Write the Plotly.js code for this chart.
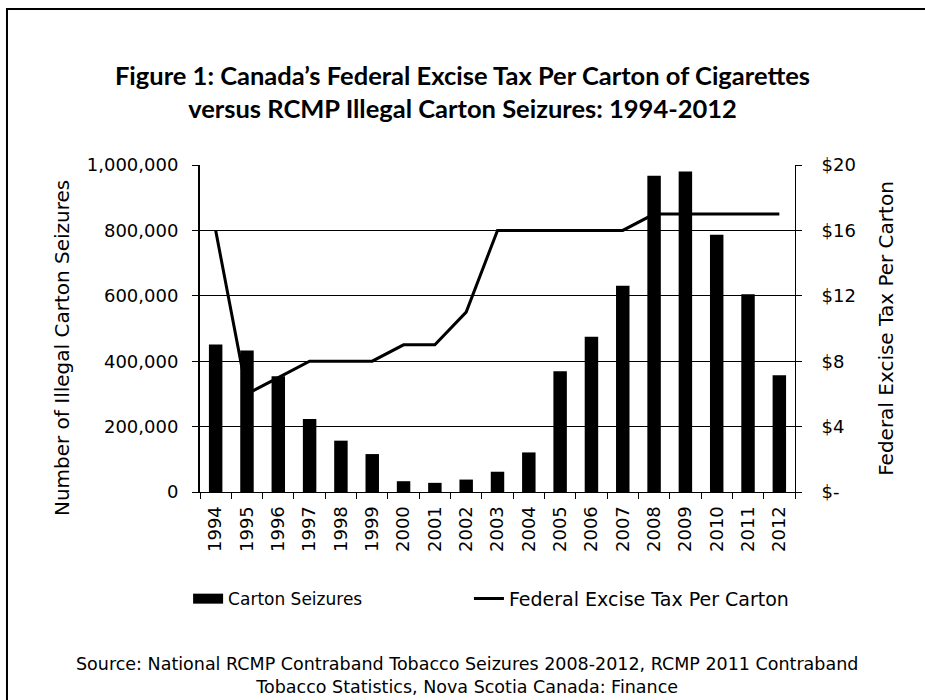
<!DOCTYPE html>
<html><head><meta charset="utf-8">
<script src="https://cdn.plot.ly/plotly-3.0.1.min.js"></script>
<style>html,body{margin:0;padding:0;background:#fff}#chart{width:925px;height:700px}</style>
</head><body><div id="chart"></div>
<script>
const years = ['1994','1995','1996','1997','1998','1999','2000','2001','2002','2003','2004','2005','2006','2007','2008','2009','2010','2011','2012'];
const seizures = [451000,433000,354000,223000,157000,116000,33000,28000,38000,62000,121000,369000,475000,631000,967000,980000,787000,605000,357000];
const exciseTax = [16,6,7,8,8,8,9,9,11,16,16,16,16,16,17,17,17,17,17];
const seizureTickVals = [0,200000,400000,600000,800000,1000000];
const taxTickVals = [0,4,8,12,16,20];
const taxTickText = ['$-','$4','$8','$12','$16','$20'];

const F = 'DejaVu Sans';
const data = [
  {type:'bar', name:'Carton Seizures', x:years, y:seizures, marker:{color:'#000'}, yaxis:'y', showlegend:false},
  {type:'scatter', mode:'lines', name:'Carton Seizures', x:[null], y:[null], line:{color:'#000', width:13},
   yaxis:'y', showlegend:true, legend:'legend', hoverinfo:'skip'},
  {type:'scatter', mode:'lines', name:'Federal Excise Tax Per Carton', x:years, y:exciseTax,
   line:{color:'#000', width:3}, yaxis:'y2', legend:'legend2'}
];
const layout = {
  width:925, height:700,
  margin:{l:200, r:130, t:165, b:208},
  paper_bgcolor:'#fff', plot_bgcolor:'#fff',
  showlegend:true,
  bargap:0.57,
  font:{family:F, color:'#000', size:15},
  title:{text:"<b>Figure 1: Canada’s Federal Excise Tax Per Carton of Cigarettes<br>versus RCMP Illegal Carton Seizures: 1994-2012</b>",
    font:{family:'Lato', size:25.5, color:'#000'}, x:0.5, xanchor:'center', y:0.879, yanchor:'top'},
  xaxis:{type:'category', tickangle:-90, tickson:'boundaries', ticks:'outside', ticklen:6, tickcolor:'#000',
    showline:true, linecolor:'#000', linewidth:1, showgrid:false, tickfont:{family:F, size:18},
    ticklabelstandoff:6, fixedrange:true},
  yaxis:{range:[0,1000000], tickvals:seizureTickVals, tickformat:',d',
    ticks:'outside', ticklen:6, tickcolor:'#000', showline:true, linecolor:'#000', linewidth:2,
    showgrid:true, gridcolor:'#000', gridwidth:1, zeroline:false,
    tickfont:{family:F, size:18}, ticklabelstandoff:10},
  yaxis2:{overlaying:'y', side:'right', range:[0,20], tickvals:taxTickVals, ticktext:taxTickText,
    ticks:'outside', ticklen:6, tickcolor:'#000', showline:true, linecolor:'#000', linewidth:1,
    showgrid:false, zeroline:false, tickfont:{family:F, size:18}, ticklabelstandoff:16,
    title:{text:'Federal Excise Tax Per Carton', font:{family:F, size:20}, standoff:24}},
  legend:{orientation:'h', x:-0.02, xanchor:'left', y:-0.2725, yanchor:'top',
    font:{family:F, size:17}, bgcolor:'rgba(0,0,0,0)'},
  legend2:{orientation:'h', x:0.452, xanchor:'left', y:-0.268, yanchor:'top',
    font:{family:F, size:19}, bgcolor:'rgba(0,0,0,0)'},
  shapes:[{type:'rect', xref:'paper', yref:'paper', x0:-0.3244, x1:1.35, y0:-0.8, y1:1.477,
    line:{color:'#000', width:2}, fillcolor:'rgba(0,0,0,0)', layer:'below'}],
  annotations:[
    {xref:'paper', yref:'paper', x:-0.232, y:0.44, xanchor:'center', yanchor:'middle', showarrow:false,
     textangle:-90, text:'Number of Illegal Carton Seizures', font:{family:F, size:20}},
    {xref:'paper', yref:'paper', x:0.449, y:-0.49, xanchor:'center', yanchor:'top', showarrow:false,
    text:'Source: National RCMP Contraband Tobacco Seizures 2008-2012, RCMP 2011 Contraband<br>Tobacco Statistics, Nova Scotia Canada: Finance',
    font:{family:F, size:17.5}, align:'center'}]
};
Plotly.newPlot('chart', data, layout, {displayModeBar:false, staticPlot:true});
</script></body></html>
